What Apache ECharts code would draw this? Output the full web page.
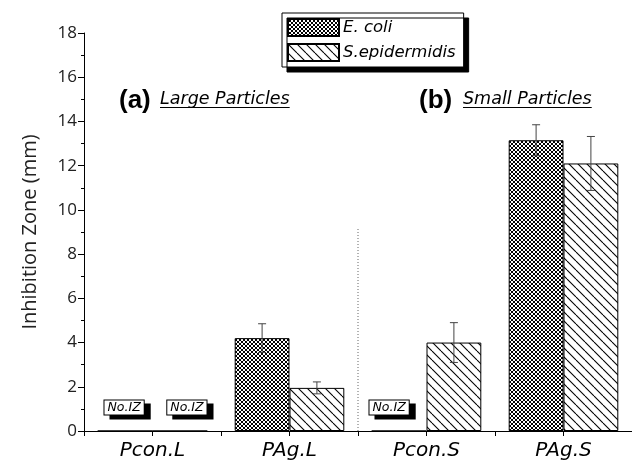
<!DOCTYPE html>
<html>
<head>
<meta charset="utf-8">
<script src="https://cdn.jsdelivr.net/npm/echarts@6/dist/echarts.min.js"></script>
<style>
  html, body { margin: 0; padding: 0; background: #fff; }
  #chart { width: 632px; height: 465px; }
</style>
</head>
<body>
<div id="chart"></div>
<script>
// Inhibition zone (mm) per sample, with standard deviations
const categories = ['Pcon.L', 'PAg.L', 'Pcon.S', 'PAg.S'];
const ecoli      = [0, 4.2, 0, 13.15];
const ecoliErr   = [0, 0.65, 0, 0.7];
const sepi       = [0, 1.95, 4.0, 12.1];
const sepiErr    = [0, 0.27, 0.9, 1.22];
const yTicks     = [0, 2, 4, 6, 8, 10, 12, 14, 16, 18];
// dotted divider between large and small particle groups (in category-boundary units)
const dividerX   = 2;
const dividerTop = 9.2;

// --- fill patterns ---
function crossHatch() {
  const c = document.createElement('canvas');
  c.width = 4; c.height = 4;
  const g = c.getContext('2d');
  g.fillStyle = '#fff'; g.fillRect(0, 0, 4, 4);
  g.fillStyle = '#000';
  for (let i = 0; i < 4; i++) {
    g.fillRect(i, i, 1, 1);
    g.fillRect(3 - i, i, 1, 1);
  }
  return c;
}
function diagHatch() {
  const s = 9;
  const c = document.createElement('canvas');
  c.width = s; c.height = s;
  const g = c.getContext('2d');
  g.fillStyle = '#fff'; g.fillRect(0, 0, s, s);
  g.strokeStyle = '#000'; g.lineWidth = 1.1;
  for (const k of [-s, 0, s]) {
    g.beginPath(); g.moveTo(k, 0); g.lineTo(k + s, s); g.stroke();
  }
  return c;
}
const ecoliFill = { image: crossHatch(), repeat: 'repeat' };
const sepiFill  = { image: diagHatch(),  repeat: 'repeat' };

// "No.IZ" tag shown where no inhibition zone was measured
function noZoneLabel(dx) {
  return {
    show: true, position: 'top', distance: 16, offset: [dx, 0],
    formatter: 'No.IZ',
    fontFamily: 'DejaVu Sans', fontStyle: 'italic', fontSize: 12.5, color: '#000',
    backgroundColor: '#fff', borderColor: '#000', borderWidth: 1,
    padding: [1, 3, 0, 3],
    shadowColor: '#000', shadowBlur: 0, shadowOffsetX: 6, shadowOffsetY: 4
  };
}
const ecoliOffsets = [-1, 0, -10, 0];
const sepiOffsets  = [7, 0, 0, 0];
function barData(vals, offsets) {
  return vals.map((v, i) => v === 0 ? { value: v, label: noZoneLabel(offsets[i]) } : v);
}
function errData(vals, errs, side) {
  const out = [];
  vals.forEach((v, i) => { if (errs[i] > 0) out.push([i, v, errs[i], side]); });
  return out;
}

function renderErr(params, api) {
  const i = api.value(0), v = api.value(1), e = api.value(2), side = api.value(3);
  const band = api.size([1, 0])[0];
  const top = api.coord([i, v + e]);
  const bot = api.coord([i, v - e]);
  const x = top[0] + side * band * 0.2;
  const cap = 4;
  const st = { stroke: '#444', lineWidth: 1 };
  return {
    type: 'group',
    children: [
      { type: 'line', shape: { x1: x, y1: top[1], x2: x, y2: bot[1] }, style: st },
      { type: 'line', shape: { x1: x - cap, y1: top[1], x2: x + cap, y2: top[1] }, style: st },
      { type: 'line', shape: { x1: x - cap, y1: bot[1], x2: x + cap, y2: bot[1] }, style: st }
    ]
  };
}

// panel headings with underlined subtitles
const measure = document.createElement('canvas').getContext('2d');
function heading(tag, tagX, sub, subX) {
  const subFont = 'italic 17.5px "DejaVu Sans"';
  measure.font = subFont;
  const w = measure.measureText(sub).width;
  return [
    { type: 'text', style: { x: tagX, y: 101, text: tag, font: 'bold 26px "Liberation Sans"', fill: '#000', textVerticalAlign: 'middle' } },
    { type: 'text', style: { x: subX, y: 99, text: sub, font: subFont, fill: '#000', textVerticalAlign: 'middle' } },
    { type: 'rect', shape: { x: subX, y: 107, width: w, height: 1 }, style: { fill: '#000' } }
  ];
}

const chart = echarts.init(document.getElementById('chart'), null, { renderer: 'canvas' });
chart.setOption({
  animation: false,
  backgroundColor: '#fff',
  grid: { left: 84, top: 33, width: 552, height: 398, containLabel: false },
  legend: {
    left: 282, top: 13, orient: 'vertical',
    data: ['E. coli', 'S.epidermidis'],
    icon: 'rect', itemWidth: 51, itemHeight: 17, itemGap: 6,
    padding: [5, 8, 5, 5],
    backgroundColor: '#fff', borderColor: '#000', borderWidth: 1,
    shadowColor: '#000', shadowBlur: 0, shadowOffsetX: 5, shadowOffsetY: 5,
    textStyle: { fontFamily: 'DejaVu Sans', fontStyle: 'italic', fontSize: 16.5, color: '#000', padding: [0, 0, 0, -1] }
  },
  xAxis: [
    {
      type: 'category', data: categories, position: 'bottom',
      axisLine: { lineStyle: { color: '#000', width: 1 } },
      axisTick: { show: false },
      axisLabel: { fontFamily: 'DejaVu Sans', fontStyle: 'italic', fontSize: 20, color: '#000', margin: 10 }
    },
    {
      type: 'value', min: 0, max: 4, interval: 0.5, position: 'bottom',
      axisLine: { show: false },
      axisTick: { show: true, length: 5, lineStyle: { color: '#000' } },
      axisLabel: { show: false }, splitLine: { show: false }
    }
  ],
  yAxis: {
    type: 'value', min: yTicks[0], max: yTicks[yTicks.length - 1], interval: 2,
    name: 'Inhibition Zone (mm)', nameLocation: 'middle', nameGap: 44,
    nameTextStyle: { fontFamily: 'Open Sans', fontSize: 20, color: '#222' },
    axisLine: { show: true, lineStyle: { color: '#000', width: 1 } },
    axisTick: { show: true, length: 6, lineStyle: { color: '#000' } },
    minorTick: { show: true, splitNumber: 2, length: 3, lineStyle: { color: '#000' } },
    splitLine: { show: false },
    axisLabel: { fontFamily: 'Open Sans', fontSize: 17, color: '#222', margin: 7 }
  },
  graphic: [
    ...heading('(a)', 119, 'Large Particles', 160),
    ...heading('(b)', 419, 'Small Particles', 463)
  ],
  series: [
    {
      name: 'E. coli', type: 'bar', barGap: '0%', barCategoryGap: '20%',
      data: barData(ecoli, ecoliOffsets),
      itemStyle: { color: ecoliFill, borderColor: '#000', borderWidth: 1 }
    },
    {
      name: 'S.epidermidis', type: 'bar', barGap: '0%', barCategoryGap: '20%',
      data: barData(sepi, sepiOffsets),
      itemStyle: { color: sepiFill, borderColor: '#000', borderWidth: 1 }
    },
    {
      type: 'custom', renderItem: renderErr, z: 5,
      encode: { x: 0, y: 1 },
      data: errData(ecoli, ecoliErr, -1).concat(errData(sepi, sepiErr, 1))
    },
    {
      type: 'line', xAxisIndex: 1, symbol: 'none', silent: true,
      lineStyle: { color: '#666', width: 1, type: [1, 2] },
      data: [[dividerX, 0], [dividerX, dividerTop]]
    }
  ]
});
</script>
</body>
</html>
